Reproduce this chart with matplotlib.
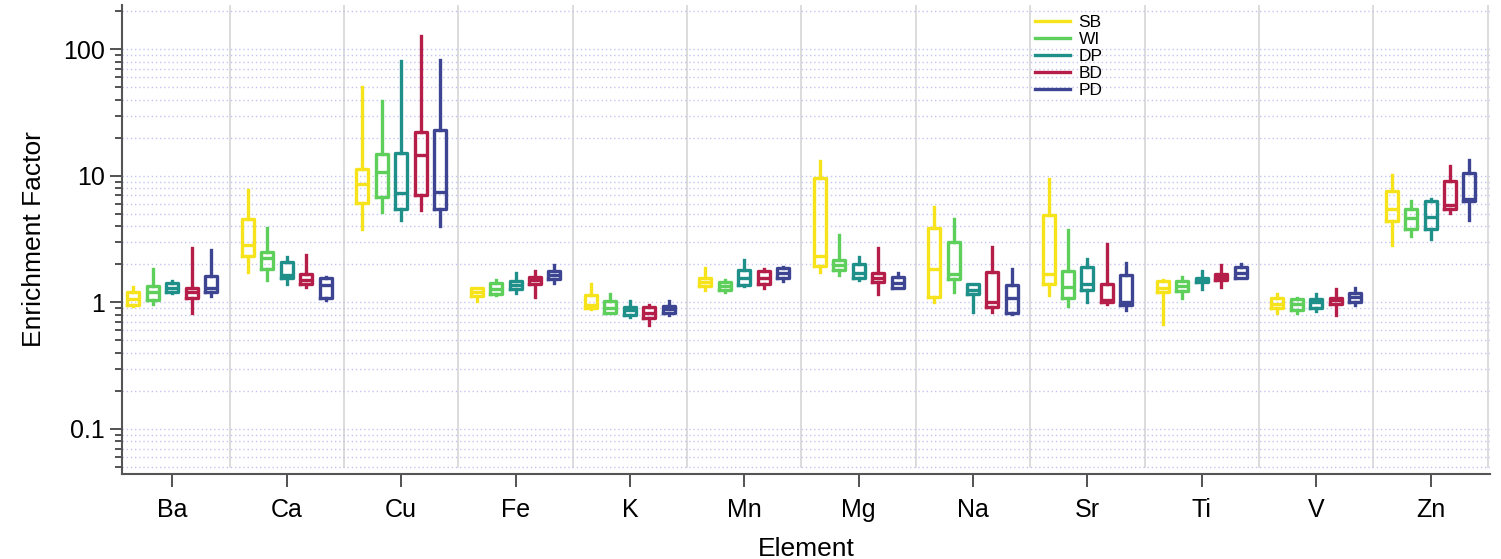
import matplotlib
matplotlib.use("Agg")
import matplotlib.pyplot as plt
from matplotlib.lines import Line2D
from matplotlib.ticker import FixedLocator, LogLocator, NullFormatter, FuncFormatter

plt.rcParams['font.family'] = ['Liberation Sans', 'DejaVu Sans']

# categories and groups
elements = ["Ba", "Ca", "Cu", "Fe", "K", "Mn", "Mg", "Na", "Sr", "Ti", "V", "Zn"]
groups = ["SB", "WI", "DP", "BD", "PD"]
colors = ["#F7E31B", "#5ECF5B", "#1F8F89", "#B41E48", "#3D4592"]

# values: whisker low, q1, median, q3, whisker high
SB = [[0.94, 0.95, 1.06, 1.21, 1.33], [1.74, 2.31, 2.83, 4.58, 7.78], [3.83, 6.13, 8.55, 11.3, 50.4],
      [1.02, 1.13, 1.21, 1.30, 1.30], [0.89, 0.91, 0.96, 1.14, 1.39], [1.25, 1.35, 1.46, 1.56, 1.88],
      [1.74, 1.95, 2.33, 9.59, 13.2], [1.00, 1.11, 1.83, 3.87, 5.67], [1.14, 1.39, 1.69, 4.93, 9.48],
      [0.68, 1.21, 1.31, 1.48, 1.49], [0.83, 0.91, 0.98, 1.08, 1.16], [2.86, 4.37, 5.50, 7.66, 10.2]]
WI = [[0.98, 1.04, 1.20, 1.34, 1.85], [1.50, 1.85, 2.25, 2.51, 3.90], [5.18, 6.80, 10.7, 14.9, 39.2],
      [1.15, 1.17, 1.28, 1.42, 1.49], [0.82, 0.83, 0.91, 1.02, 1.16], [1.20, 1.25, 1.35, 1.46, 1.50],
      [1.66, 1.80, 1.97, 2.15, 3.43], [1.21, 1.52, 1.69, 3.00, 4.53], [0.94, 1.09, 1.33, 1.78, 3.76],
      [1.09, 1.23, 1.34, 1.47, 1.59], [0.82, 0.87, 0.97, 1.06, 1.08], [3.35, 3.78, 4.65, 5.50, 6.28]]
DP = [[1.19, 1.20, 1.29, 1.43, 1.47], [1.41, 1.55, 1.64, 2.07, 2.29], [4.45, 5.50, 7.36, 15.3, 81.1],
      [1.19, 1.28, 1.36, 1.48, 1.71], [0.77, 0.80, 0.87, 0.925, 1.02], [1.35, 1.37, 1.55, 1.80, 2.18],
      [1.50, 1.55, 1.72, 2.00, 2.29], [0.845, 1.16, 1.25, 1.39, 1.39], [1.01, 1.25, 1.41, 1.91, 2.19],
      [1.27, 1.44, 1.52, 1.57, 1.78], [0.855, 0.91, 1.00, 1.06, 1.16], [3.15, 3.78, 4.73, 6.28, 6.51]]
BD = [[0.83, 1.08, 1.20, 1.31, 2.71], [1.33, 1.39, 1.50, 1.67, 2.36], [5.40, 7.00, 14.5, 22.3, 127.0],
      [1.10, 1.40, 1.51, 1.60, 1.76], [0.66, 0.75, 0.83, 0.925, 0.96], [1.31, 1.39, 1.56, 1.76, 1.85],
      [1.16, 1.46, 1.57, 1.71, 2.71], [0.845, 0.925, 1.01, 1.74, 2.75], [0.97, 1.00, 1.04, 1.39, 2.91],
      [1.33, 1.50, 1.59, 1.69, 1.99], [0.79, 0.97, 1.04, 1.09, 1.27], [5.11, 5.43, 5.84, 9.18, 12.0]]
PD = [[1.12, 1.21, 1.31, 1.61, 2.58], [1.04, 1.09, 1.37, 1.56, 1.59], [4.02, 5.43, 7.52, 23.1, 82.5],
      [1.42, 1.53, 1.65, 1.78, 1.96], [0.80, 0.83, 0.88, 0.94, 1.03], [1.47, 1.55, 1.72, 1.88, 1.92],
      [1.31, 1.31, 1.43, 1.59, 1.72], [0.81, 0.83, 1.08, 1.37, 1.83], [0.87, 0.95, 1.01, 1.64, 2.03],
      [1.55, 1.56, 1.71, 1.89, 2.00], [0.95, 1.00, 1.10, 1.18, 1.29], [4.45, 6.28, 6.59, 10.5, 13.4]]
all_data = [SB, WI, DP, BD, PD]

fig = plt.figure(figsize=(15.01, 5.59), dpi=100)
ax = fig.add_axes([0.0813, 0.152, 0.9114, 0.839])

offsets = [-0.34, -0.17, 0.0, 0.17, 0.34]
for g, (data, col, off) in enumerate(zip(all_data, colors, offsets)):
    stats = []
    for row in data:
        stats.append({"whislo": row[0], "q1": row[1], "med": row[2], "q3": row[3], "whishi": row[4], "fliers": []})
    pos = [i + off for i in range(len(elements))]
    style = dict(color=col, linewidth=2.4)
    ax.bxp(stats, positions=pos, widths=0.105, showcaps=False, showfliers=False,
           boxprops=style, whiskerprops=style, medianprops=style, manage_ticks=False)

# category separators
for i in range(len(elements)):
    ax.axvline(i + 0.5, ymin=0.015, color="#d6d6d6", linewidth=1.2, zorder=0)

ax.set_yscale("log")
ax.set_ylim(0.044, 224)
ax.set_xlim(-0.44, 11.52)

ax.yaxis.set_major_locator(FixedLocator([0.1, 1, 10, 100]))
ax.yaxis.set_major_formatter(FuncFormatter(lambda v, p: "%g" % v))
ax.yaxis.set_minor_locator(LogLocator(base=10, subs=range(2, 10)))
ax.yaxis.set_minor_formatter(NullFormatter())
ax.grid(True, which="both", axis="y", linestyle=(0, (1, 2)), color="#c4c4f4", linewidth=1.0, zorder=0)
ax.set_axisbelow(True)

ax.set_xticks(range(len(elements)))
ax.set_xticklabels(elements)
ax.tick_params(axis="both", which="major", labelsize=18, length=9, width=1.3, color="#444444", direction="out")
ax.tick_params(axis="y", which="minor", length=5, width=1.3, color="#444444")
ax.tick_params(axis="x", pad=8)

for s in ["top", "right"]:
    ax.spines[s].set_visible(False)
for s in ["left", "bottom"]:
    ax.spines[s].set_color("#555555")
    ax.spines[s].set_linewidth(1.5)

ax.set_xlabel("Element", fontsize=19, labelpad=11)
ax.set_ylabel("Enrichment Factor", fontsize=19, labelpad=12)

handles = [Line2D([0], [0], color=c, linewidth=2.4) for c in colors]
ax.legend(handles, groups, loc="upper left", bbox_to_anchor=(0.656, 1.012), frameon=False,
          fontsize=12.5, handlelength=2.0, labelspacing=0.1, handletextpad=0.5)

fig.savefig("out.png", dpi=100)
